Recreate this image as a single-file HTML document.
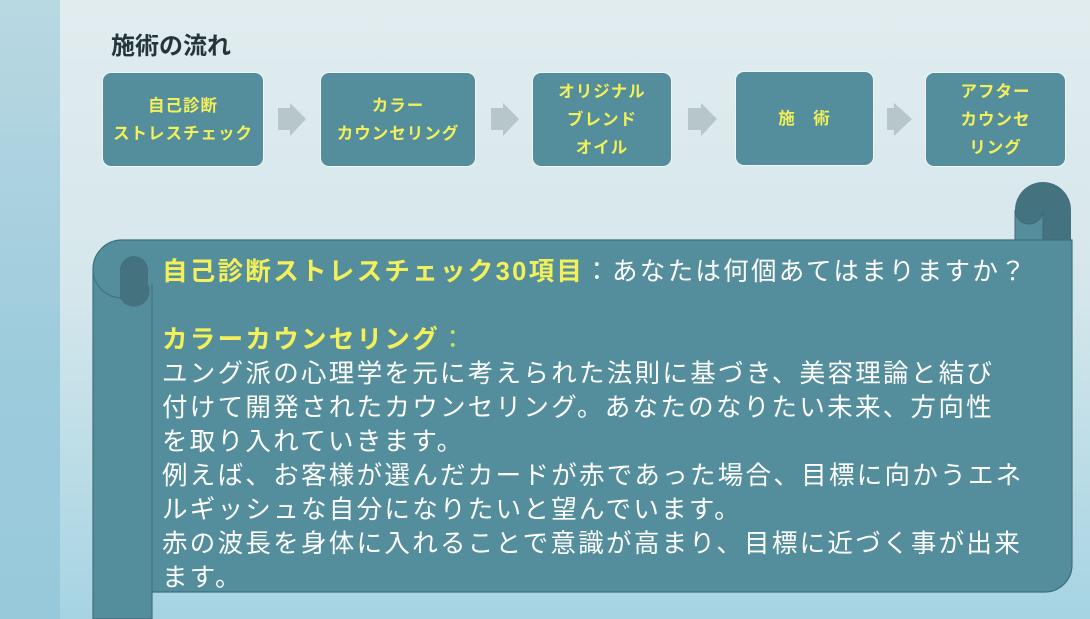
<!DOCTYPE html>
<html><head><meta charset="utf-8"><style>
body{margin:0;width:1090px;height:619px;overflow:hidden;position:relative;font-family:"Liberation Sans","Noto Sans CJK JP",sans-serif;}
.bg{position:absolute;inset:0;background:linear-gradient(180deg,#e1ecef 0%,#d6e7ec 45%,#b7dbe6 80%,#a6d4e3 100%);}
.strip{position:absolute;left:0;top:0;width:60px;height:619px;background:linear-gradient(180deg,#b9d8e2,#9ccbdc 60%,#98c9db);}
.box{position:absolute;background:#548e9c;border:1.5px solid #f0f6f8;border-radius:9px;color:#f3f05a;font-weight:bold;font-size:16.5px;letter-spacing:1px;display:flex;align-items:center;justify-content:center;text-align:center;line-height:28px;box-sizing:border-box;}
.title{position:absolute;left:111px;top:26px;font-size:24px;font-weight:bold;color:#24363c;}
.txt{position:absolute;left:162px;top:255px;color:#fff;font-size:25.5px;letter-spacing:2.3px;line-height:34px;white-space:nowrap;}
.y{color:#f3f05a;font-weight:bold;}
</style></head><body>
<div class="bg"></div><div class="strip"></div>
<div class="title">施術の流れ</div>
<div class="box" style="left:102px;top:72px;width:162px;height:95px">自己診断<br>ストレスチェック</div>
<div class="box" style="left:320px;top:72px;width:156px;height:95px">カラー<br>カウンセリング</div>
<div class="box" style="left:532px;top:72px;width:140px;height:95px">オリジナル<br>ブレンド<br>オイル</div>
<div class="box" style="left:735px;top:71px;width:139px;height:95px">施　術</div>
<div class="box" style="left:925px;top:72px;width:141px;height:95px">アフター<br>カウンセ<br>リング</div>
<svg width="1090" height="619" style="position:absolute;left:0;top:0">
<g fill="#b6c6cb">
<polygon points="278,108 290,108 290,103 306,119 290,136 290,130 278,130"/>
<polygon points="491,108 503,108 503,103 519,119 503,136 503,130 491,130"/>
<polygon points="688,108 701,108 701,103 717,119 701,136 701,130 688,130"/>
<polygon points="887,108 894,108 894,103 912,119 894,136 894,130 887,130"/>
</g>
<path d="M1015,240 L1015,210 A28,28 0 0 1 1071,210 L1071,240 Z" fill="#44737f"/>
<path d="M1015,210 A14,14 0 0 0 1043,210 L1043,240 L1015,240 Z" fill="#548e9c" stroke="#3d6a75" stroke-width="1"/>
<path d="M122,240 L1072,240 L1072,565 A27,27 0 0 1 1045,592 L152,592 L152,619 L93,619 L93,269 A29,29 0 0 1 122,240 Z" fill="#548e9c" stroke="#3f6f7b" stroke-width="1.2"/>
<path d="M120,298 L120,270 A14,14 0 0 1 148,270 L148,284 A14,14 0 0 1 120,298 Z" fill="#44737f"/>
<path d="M122,298 A29,29 0 0 1 93,269" fill="none" stroke="#3f6f7b" stroke-width="1"/>
<line x1="152" y1="284" x2="152" y2="619" stroke="#3f6f7b" stroke-width="1"/>
</svg>
<div class="txt"><span class="y">自己診断ストレスチェック30項目</span>：あなたは何個あてはまりますか？<br><br><span class="y">カラーカウンセリング</span><span style="color:#c8e060">：</span><br>ユング派の心理学を元に考えられた法則に基づき、美容理論と結び<br>付けて開発されたカウンセリング。あなたのなりたい未来、方向性<br>を取り入れていきます。<br>例えば、お客様が選んだカードが赤であった場合、目標に向かうエネ<br>ルギッシュな自分になりたいと望んでいます。<br>赤の波長を身体に入れることで意識が高まり、目標に近づく事が出来<br>ます。</div>
</body></html>
